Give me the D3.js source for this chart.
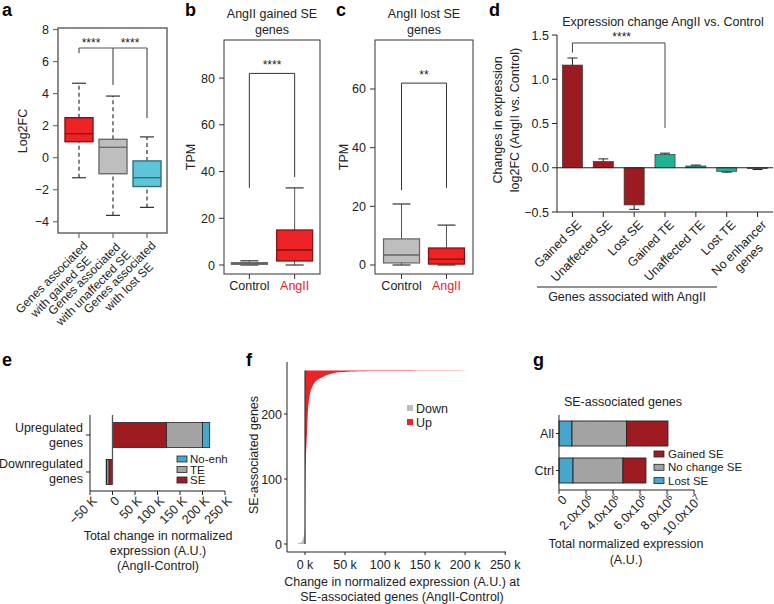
<!DOCTYPE html>
<html><head><meta charset="utf-8">
<script src="https://cdn.jsdelivr.net/npm/d3@7"></script>
<style>body{margin:0;background:#fff} text{font-family:"Liberation Sans",Arial,Helvetica,sans-serif}</style>
</head><body><svg id="c" width="774" height="604"></svg>
<script>
// ================= DATA =================
// Panel a
const aCategories = ["Genes associated\nwith gained SE","Genes associated\nwith unaffected SE","Genes associated\nwith lost SE"];
const aLow = [-1.25, -3.6, -3.1];
const aQ1 = [1.0, -1.0, -1.8];
const aMedian = [1.5, 0.65, -1.25];
const aQ3 = [2.5, 1.15, -0.2];
const aHigh = [4.65, 3.85, 1.3];
const aYTicks = [-4, -2, 0, 2, 4, 6, 8];
const aSig = ["****", "****"];
// Panel b
const bCategories = ["Control", "AngII"];
const bLow = [0, 0];
const bQ1 = [0.3, 1.7];
const bMedian = [0.6, 6.4];
const bQ3 = [1.0, 15];
const bHigh = [1.8, 33];
const bYTicks = [0, 20, 40, 60, 80];
const bSig = "****";
// Panel c
const cCategories = ["Control", "AngII"];
const cLow = [0, 0];
const cQ1 = [0.7, 0.3];
const cMedian = [3.4, 2.0];
const cQ3 = [8.9, 5.8];
const cHigh = [20.8, 13.6];
const cYTicks = [0, 20, 40, 60];
const cSig = "**";
// Panel d
const dCategories = ["Gained SE","Unaffected SE","Lost SE","Gained TE","Unaffected TE","Lost TE","No enhancer\ngenes"];
const dValues = [1.16, 0.07, -0.42, 0.15, 0.02, -0.04, -0.01];
const dErrors = [0.08, 0.03, 0.05, 0.015, 0.01, 0.01, 0.01];
const dGroups = ["SE","SE","SE","TE","TE","TE","None"];
const dYTicks = [-0.5, 0.0, 0.5, 1.0, 1.5];
const dSig = "****";
// Panel e (K units)
const eCategories = ["Upregulated\ngenes", "Downregulated\ngenes"];
const eSE = [120, -8];
const eTE = [80, -5];
const eNoEnh = [16, -1];
const eXTicks = [-50, 0, 50, 100, 150, 200, 250];
// Panel f (rank of gene, change in k)
const fUpRank = [30, 60, 109, 145, 171, 201, 222, 242, 252, 257, 261, 264, 265, 266, 267];
const fUpValue = [0, 0.1, 0.5, 1.5, 2.5, 3.5, 5, 9, 15, 22, 30, 40, 55, 90, 238];
const fDownRank = [0, 1, 2, 4, 6, 10, 15, 22, 35];
const fDownValue = [-11, -8, -6, -4, -3, -2, -1, -0.5, 0];
const fXTicks = [0, 50, 100, 150, 200, 250];
const fYTicks = [0, 100, 200];
// Panel g
const gCategories = ["All", "Ctrl"];
const gLost = [0.96e6, 1.04e6];
const gNoChange = [4.04e6, 3.70e6];
const gGained = [3.07e6, 1.70e6];
const gXTicks = [0, 2e6, 4e6, 6e6, 8e6, 10e6];
const gXTickLabels = ["0", "2.0x10^6", "4.0x10^6", "6.0x10^6", "8.0x10^6", "10.0x10^7"];

// ================= HELPERS =================
const svg = d3.select("#c");
svg.append("rect").attr("width", 774).attr("height", 604).attr("fill", "#fff");
const INK = "#222";

function txt(g, x, y, lines, o = {}) {
  const t = g.append("text").attr("x", x).attr("y", y)
    .attr("font-size", o.size || 12).attr("text-anchor", o.anchor || "middle")
    .attr("fill", o.fill || INK);
  if (o.weight) t.attr("font-weight", o.weight);
  if (o.transform) t.attr("transform", o.transform);
  lines.forEach((l, i) => t.append("tspan").attr("x", x).attr("dy", i === 0 ? (o.dy || 0) : (o.lh || 15)).text(l));
  return t;
}
function line(g, x1, y1, x2, y2, stroke = INK, w = 1, dash = null) {
  const l = g.append("line").attr("x1", x1).attr("y1", y1).attr("x2", x2).attr("y2", y2)
    .attr("stroke", stroke).attr("stroke-width", w);
  if (dash) l.attr("stroke-dasharray", dash);
  return l;
}
// rotated (-45) label, block right-anchored; lines centered in block
function rotLabel(g, x, y, label, size, fill = INK) {
  const lines = label.split("\n");
  const gg = g.append("g").attr("transform", `translate(${x},${y}) rotate(-45)`);
  const t = gg.append("text").attr("text-anchor", "end").attr("font-size", size).attr("fill", fill);
  const spans = lines.map((l, i) => t.append("tspan").attr("x", 0).attr("dy", i === 0 ? "0.75em" : "1.1em").text(l));
  const w = spans.map(s => s.node().getComputedTextLength());
  const mw = d3.max(w);
  spans.forEach((s, i) => s.attr("x", -(mw - w[i]) / 2));
}
function panelLabel(x, y, s) {
  txt(svg, x, y, [s], { size: 18, weight: "bold", anchor: "start", fill: "#000" });
}

// ================= PANEL a =================
{
  const g = svg.append("g");
  const xA = d3.scalePoint().domain(d3.range(aCategories.length)).range([62, 164]).padding(0.5);
  const yA = d3.scaleLinear().domain([-4.7, 8.1]).range([233, 28]);
  const fills = ["#ED2224", "#BEBEBE", "#5EC4DA"];
  const [x0, x1] = [58, 167];
  aYTicks.forEach(v => {
    line(g, x0 - 5, yA(v), x0, yA(v), "#555", 1);
    txt(g, x0 - 9, yA(v), [v < 0 ? "\u2212" + Math.abs(v) : String(v)], { size: 12.5, anchor: "end", dy: "0.36em" });
  });
  aCategories.forEach((c, i) => {
    const cx = xA(i), bw = 28, cw = 14;
    line(g, cx, yA(aLow[i]), cx, yA(aQ1[i]), "#333", 1.2, "4,3");
    line(g, cx, yA(aQ3[i]), cx, yA(aHigh[i]), "#333", 1.2, "4,3");
    line(g, cx - cw / 2, yA(aLow[i]), cx + cw / 2, yA(aLow[i]), "#333", 1.2);
    line(g, cx - cw / 2, yA(aHigh[i]), cx + cw / 2, yA(aHigh[i]), "#333", 1.2);
    const st = d3.color(fills[i]).darker(1.6).formatHex();
    g.append("rect").attr("x", cx - bw / 2).attr("y", yA(aQ3[i])).attr("width", bw)
      .attr("height", yA(aQ1[i]) - yA(aQ3[i])).attr("fill", fills[i]).attr("stroke", st).attr("stroke-width", 1.4);
    line(g, cx - bw / 2, yA(aMedian[i]), cx + bw / 2, yA(aMedian[i]), st, 1.4);
    line(g, cx, 233, cx, 238, "#555", 1);
    rotLabel(g, cx + 3, 240, c, 12);
  });
  g.append("rect").attr("x", x0).attr("y", 28).attr("width", x1 - x0).attr("height", 205)
    .attr("fill", "none").attr("stroke", "#666").attr("stroke-width", 1.5);
  // significance bracket
  const by = yA(6.85);
  line(g, xA(0), by, xA(2), by, "#555", 1.2);
  line(g, xA(0), by, xA(0), yA(6.53), "#555", 1.2);
  line(g, xA(1), by, xA(1), yA(4.54), "#555", 1.2);
  line(g, xA(2), by, xA(2), yA(2.48), "#555", 1.2);
  txt(g, (xA(0) + xA(1)) / 2 - 5, by - 1, [aSig[0]], { size: 12 });
  txt(g, (xA(1) + xA(2)) / 2, by - 1, [aSig[1]], { size: 12 });
  txt(g, 0, 0, ["Log2FC"], { size: 12.5, transform: "translate(26.5,131) rotate(-90)" });
  panelLabel(2, 16, "a");
}

// ================= PANELS b, c =================
function tpmPanel(o) {
  const g = svg.append("g");
  const x = d3.scalePoint().domain(o.cats).range([o.x0, o.x1]).padding(o.pad);
  const y = d3.scaleLinear().domain(o.ydom).range([274, 40]);
  const fills = ["#BEBEBE", "#ED2224"];
  o.ticks.forEach(v => {
    line(g, o.x0 - 5, y(v), o.x0, y(v), "#333", 1);
    txt(g, o.x0 - 9, y(v), [String(v)], { size: 12.5, anchor: "end", dy: "0.36em" });
  });
  o.cats.forEach((c, i) => {
    const cx = x(c), bw = 36, cw = 18;
    line(g, cx, y(o.low[i]), cx, y(o.q1[i]), "#555", 1);
    line(g, cx, y(o.q3[i]), cx, y(o.high[i]), "#555", 1);
    line(g, cx - cw / 2, y(o.low[i]), cx + cw / 2, y(o.low[i]), "#333", 1.2);
    line(g, cx - cw / 2, y(o.high[i]), cx + cw / 2, y(o.high[i]), "#333", 1.2);
    const st = d3.color(fills[i]).darker(1.8).formatHex();
    g.append("rect").attr("x", cx - bw / 2).attr("y", y(o.q3[i])).attr("width", bw)
      .attr("height", Math.max(1, y(o.q1[i]) - y(o.q3[i]))).attr("fill", fills[i]).attr("stroke", st).attr("stroke-width", 1.2);
    line(g, cx - bw / 2, y(o.med[i]), cx + bw / 2, y(o.med[i]), st, 1.4);
    line(g, cx, 274, cx, 279, "#333", 1);
    txt(g, cx, 290, [c], { size: 12.5, fill: i === 1 ? "#E8202A" : INK });
  });
  g.append("rect").attr("x", o.x0).attr("y", 40).attr("width", o.x1 - o.x0).attr("height", 234)
    .attr("fill", "none").attr("stroke", "#333").attr("stroke-width", 1);
  const [c0, c1] = [x(o.cats[0]), x(o.cats[1])];
  line(g, c0, y(o.bTop), c1, y(o.bTop), "#333", 1);
  line(g, c0, y(o.bTop), c0, y(o.bLeft), "#333", 1);
  line(g, c1, y(o.bTop), c1, y(o.bRight), "#333", 1);
  txt(g, (c0 + c1) / 2, y(o.bTop) - 4, [o.sig], { size: 12 });
  txt(g, (o.x0 + o.x1) / 2, 18, o.title, { size: 12.5, lh: 16 });
  txt(g, 0, 0, ["TPM"], { size: 12.5, transform: `translate(${o.ylabX},157) rotate(-90)` });
}
tpmPanel({ cats: bCategories, x0: 224, x1: 320, pad: 0.56, ydom: [-3.85, 96.3], ticks: bYTicks,
  low: bLow, q1: bQ1, med: bMedian, q3: bQ3, high: bHigh, bTop: 82, bLeft: 33, bRight: 37.6,
  sig: bSig, title: ["AngII gained SE", "genes"], ylabX: 194.5 });
tpmPanel({ cats: cCategories, x0: 375, x1: 473, pad: 0.59, ydom: [-3.07, 76.7], ticks: cYTicks,
  low: cLow, q1: cQ1, med: cMedian, q3: cQ3, high: cHigh, bTop: 62, bLeft: 25.5, bRight: 26.3,
  sig: cSig, title: ["AngII lost SE", "genes"], ylabX: 347.5 });
panelLabel(185, 16, "b");
panelLabel(336, 16, "c");

// ================= PANEL d =================
{
  const g = svg.append("g");
  const x = d3.scaleBand().domain(dCategories).range([557, 773]).paddingInner(0.35).paddingOuter(0.175);
  const y = d3.scaleLinear().domain([-0.5, 1.5]).range([212, 35]);
  const col = { SE: "#9B1B20", TE: "#1DB394", None: "#8C8C8C" };
  line(g, 557, y(1.5), 557, y(-0.5), INK, 1);
  dYTicks.forEach(v => {
    line(g, 552, y(v), 557, y(v), INK, 1);
    txt(g, 549, y(v), [(v < 0 ? "\u2212" : "") + Math.abs(v).toFixed(1)], { size: 12.5, anchor: "end", dy: "0.36em" });
  });
  line(g, 557, 212, 773, 212, INK, 1);
  dCategories.forEach((c, i) => {
    const cx = x(c) + x.bandwidth() / 2;
    const v = dValues[i], e = dErrors[i] * Math.sign(v || 1);
    g.append("rect").attr("x", x(c)).attr("y", Math.min(y(0), y(v))).attr("width", x.bandwidth())
      .attr("height", Math.abs(y(v) - y(0))).attr("fill", col[dGroups[i]]).attr("stroke", "#333").attr("stroke-width", 0.7);
    line(g, cx, y(v), cx, y(v + e), "#222", 1);
    line(g, cx - 5, y(v + e), cx + 5, y(v + e), "#222", 1);
    line(g, cx, 212, cx, 217, INK, 1);
    rotLabel(g, cx + 3, 219, c, 12.5);
  });
  line(g, 557, y(0), 773, y(0), "#222", 1);
  const c0 = x(dCategories[0]) + x.bandwidth() / 2, c3 = x(dCategories[3]) + x.bandwidth() / 2;
  line(g, c0, y(1.41), c3, y(1.41), "#444", 1);
  line(g, c0, y(1.41), c0, y(1.30), "#444", 1);
  line(g, c3, y(1.41), c3, y(0.45), "#444", 1);
  txt(g, (c0 + c3) / 2 + 3, y(1.41) - 2, [dSig], { size: 12 });
  txt(g, 663, 26, ["Expression change AngII vs. Control"], { size: 12.5 });
  txt(g, 0, 0, ["Changes in expression", "log2FC (AngII vs. Control)"], { size: 12.5, lh: 17, transform: "translate(501.5,120) rotate(-90)" });
  line(g, 537, 287, 717, 287, INK, 1);
  txt(g, 627, 301, ["Genes associated with AngII"], { size: 12.5 });
  panelLabel(489, 16, "d");
}

// ================= PANEL e =================
{
  const g = svg.append("g");
  const x = d3.scaleLinear().domain([-50, 250]).range([90, 225]);
  const y = d3.scaleBand().domain(eCategories).range([416, 491]).paddingInner(0.324).paddingOuter(0.176);
  const colors = { SE: "#9E1B21", TE: "#A3A3A3", NoEnh: "#47A6CC" };
  eCategories.forEach((c, i) => {
    const segs = [["SE", eSE[i]], ["TE", eTE[i]], ["NoEnh", eNoEnh[i]]];
    let acc = 0;
    segs.forEach(([k, v]) => {
      const a = acc, b = acc + v; acc = b;
      g.append("rect").attr("x", x(Math.min(a, b))).attr("y", y(c)).attr("width", Math.abs(x(b) - x(a)))
        .attr("height", y.bandwidth()).attr("fill", colors[k]).attr("stroke", "#222").attr("stroke-width", 0.8);
    });
    const cy = y(c) + y.bandwidth() / 2;
    line(g, 86, cy, 90, cy, INK, 1);
    txt(g, 83, cy - 3.5, c.split("\n"), { size: 12.5, anchor: "end", lh: 15 });
  });
  line(g, 90, 415, 90, 491, INK, 1);
  line(g, x(0), 415, x(0), 484, "#555", 1.3);
  line(g, 90, 491, 225, 491, INK, 1);
  eXTicks.forEach(v => {
    line(g, x(v), 491, x(v), 495, INK, 1);
    rotLabel(g, x(v) + 1, 495, v === 0 ? "0" : (v < 0 ? "\u2212" : "") + Math.abs(v) + " K", 12.5);
  });
  const leg = [["No-enh", colors.NoEnh], ["TE", colors.TE], ["SE", colors.SE]];
  leg.forEach(([n, c], i) => {
    const ly = 459 + i * 10.5;
    g.append("rect").attr("x", 177).attr("y", ly - 3).attr("width", 10).attr("height", 6)
      .attr("fill", c).attr("stroke", "#222").attr("stroke-width", 0.8);
    txt(g, 190, ly, [n], { size: 11.5, anchor: "start", dy: "0.36em" });
  });
  txt(g, 158, 539.5, ["Total change in normalized", "expression (A.U.)", "(AngII-Control)"], { size: 12.5, lh: 15 });
  panelLabel(2, 366, "e");
}

// ================= PANEL f =================
{
  const g = svg.append("g");
  const x = d3.scaleLinear().domain([-22.5, 251]).range([287, 506]);
  const y = d3.scaleLinear().domain([-12.3, 280]).range([552, 362]);
  const up = fUpRank.map((r, i) => [r, fUpValue[i]]);
  const down = fDownRank.map((r, i) => [r, fDownValue[i]]);
  const area = d3.area().curve(d3.curveMonotoneY).y(d => y(d[0])).x0(x(0)).x1(d => x(d[1]));
  g.append("path").datum(down).attr("d", area).attr("fill", "#BDBDBD");
  g.append("path").datum(up).attr("d", area).attr("fill", "#EE2128");
  line(g, x(0), y(0), x(0), y(267), "#333", 1.2);
  line(g, 287, 362, 287, 552, INK, 1);
  line(g, 287, 552, 506, 552, INK, 1);
  fYTicks.forEach(v => {
    line(g, 284, y(v), 287, y(v), INK, 1);
    txt(g, 282, y(v), [String(v)], { size: 12.5, anchor: "end", dy: "0.36em" });
  });
  fXTicks.forEach(v => {
    line(g, x(v), 552, x(v), 555, INK, 1);
    txt(g, x(v), 569, [v + " k"], { size: 12.5 });
  });
  const leg = [["Down", "#BDBDBD"], ["Up", "#EE2128"]];
  leg.forEach(([n, c], i) => {
    const ly = 408 + i * 14;
    g.append("rect").attr("x", 407).attr("y", ly - 3).attr("width", 6).attr("height", 6).attr("fill", c);
    txt(g, 416, ly, [n], { size: 12.5, anchor: "start", dy: "0.36em" });
  });
  txt(g, 0, 0, ["SE-associated genes"], { size: 12.5, transform: "translate(257.5,455) rotate(-90)" });
  txt(g, 402, 586, ["Change in normalized expression (A.U.) at", "SE-associated genes (AngII-Control)"], { size: 12.5, lh: 15 });
  panelLabel(246, 366, "f");
}

// ================= PANEL g =================
{
  const g = svg.append("g");
  const x = d3.scaleLinear().domain([0, 10e6]).range([559, 694]);
  const y = d3.scaleBand().domain(gCategories).range([415, 489]).paddingInner(0.324).paddingOuter(0.162);
  const colors = { Lost: "#47A6CC", NoChange: "#A3A3A3", Gained: "#9E1B21" };
  gCategories.forEach((c, i) => {
    const segs = [["Lost", gLost[i]], ["NoChange", gNoChange[i]], ["Gained", gGained[i]]];
    let acc = 0;
    segs.forEach(([k, v]) => {
      g.append("rect").attr("x", x(acc)).attr("y", y(c)).attr("width", x(acc + v) - x(acc))
        .attr("height", y.bandwidth()).attr("fill", colors[k]).attr("stroke", "#222").attr("stroke-width", 0.9);
      acc += v;
    });
    const cy = y(c) + y.bandwidth() / 2;
    line(g, 556, cy, 559, cy, INK, 1);
    txt(g, 554, cy, [c], { size: 12.5, anchor: "end", dy: "0.36em" });
  });
  line(g, 559, 415, 559, 490, INK, 1);
  line(g, 559, 490, 694, 490, INK, 1);
  gXTicks.forEach((v, i) => {
    line(g, x(v), 490, x(v), 494, INK, 1);
    const [base, exp] = gXTickLabels[i].split("^");
    const gg = g.append("g").attr("transform", `translate(${x(v) + 2},${494}) rotate(-45)`);
    const t = gg.append("text").attr("text-anchor", "end").attr("font-size", 12.5).attr("fill", INK).attr("dy", "0.75em");
    t.append("tspan").attr("dy", "0.75em").text(base);
    if (exp) t.append("tspan").attr("dy", "-0.45em").attr("font-size", 9).text(exp);
  });
  const leg = [["Gained SE", colors.Gained], ["No change SE", colors.NoChange], ["Lost SE", colors.Lost]];
  leg.forEach(([n, c], i) => {
    const ly = 454 + i * 13.3;
    g.append("rect").attr("x", 654).attr("y", ly - 3).attr("width", 10).attr("height", 6)
      .attr("fill", c).attr("stroke", "#222").attr("stroke-width", 0.8);
    txt(g, 668, ly, [n], { size: 11.5, anchor: "start", dy: "0.36em" });
  });
  txt(g, 623, 406, ["SE-associated genes"], { size: 12.5 });
  txt(g, 626, 548, ["Total normalized expression", "(A.U.)"], { size: 12.5, lh: 16 });
  panelLabel(533, 366, "g");
}
</script></body></html>
